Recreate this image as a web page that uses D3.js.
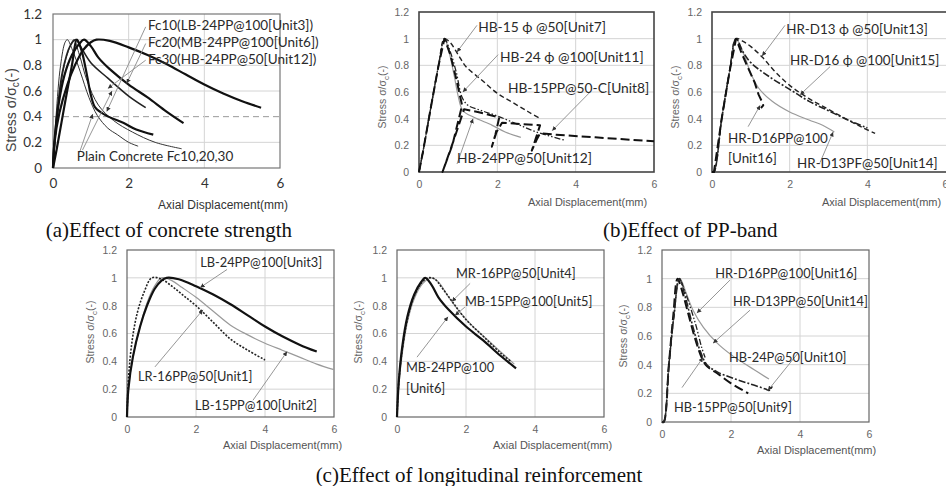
<!DOCTYPE html>
<html>
<head>
<meta charset="utf-8">
<script src="https://cdn.jsdelivr.net/npm/d3@7"></script>
<style>
body { margin: 0; background: #fff; }
</style>
</head>
<body>
<svg id="fig" width="946" height="486"></svg>
<script>
// ticks
var xTicks = [0, 2, 4, 6];
var yTicks = [0, 0.2, 0.4, 0.6, 0.8, 1, 1.2];
var xTickLabels = ['0', '2', '4', '6'];
var yTickLabels = ['0', '0.2', '0.4', '0.6', '0.8', '1', '1.2'];

// (a) effect of concrete strength
var unit3 = [[0,0],[0.04,0.2],[0.17,0.43],[0.38,0.65],[0.58,0.8],[0.8,0.92],[1.0,0.98],[1.15,1.0],[1.5,0.99],[2,0.94],[2.5,0.88],[3,0.81],[3.5,0.73],[4,0.65],[4.5,0.58],[5,0.52],[5.5,0.47]];
var unit6 = [[0,0],[0.05,0.25],[0.15,0.5],[0.3,0.72],[0.5,0.88],[0.7,0.97],[0.82,1.0],[1.0,0.95],[1.2,0.86],[1.5,0.77],[2,0.65],[2.5,0.55],[3,0.44],[3.45,0.35]];
var unit12 = [[0,0],[0.1,0.15],[0.3,0.48],[0.5,0.8],[0.63,1.0],[0.75,0.92],[0.9,0.72],[1.0,0.57],[1.12,0.47],[1.4,0.41],[1.87,0.35],[2.2,0.3],[2.65,0.26]];
var plainFc10 = [[0,0],[0.08,0.4],[0.2,0.8],[0.32,0.98],[0.38,1.0],[0.5,0.93],[0.72,0.75],[0.95,0.55],[1.17,0.41],[1.45,0.31],[1.7,0.26],[2.0,0.2],[2.25,0.17]];
var plainFc20 = [[0,0],[0.1,0.35],[0.3,0.8],[0.5,0.98],[0.55,1.0],[0.7,0.88],[0.9,0.68],[1.2,0.49],[1.6,0.37],[2.1,0.28],[2.7,0.2],[3.4,0.15]];
var plainFc30 = [[0,0],[0.1,0.4],[0.25,0.75],[0.45,0.95],[0.6,1.0],[0.72,0.95],[1.0,0.82],[1.45,0.7],[2,0.56],[2.45,0.47]];
var labelsA = ['Fc10(LB-24PP@100[Unit3])', 'Fc20(MB-24PP@100[Unit6])', 'Fc30(HB-24PP@50[Unit12])', 'Plain Concrete Fc10,20,30'];

// (b) effect of PP-band, left
var unit7 = [[0,0],[0.1,0.15],[0.3,0.48],[0.5,0.8],[0.65,1.0],[0.8,0.97],[1.0,0.88],[1.2,0.79],[1.6,0.69],[2,0.59],[2.4,0.52],[2.8,0.45],[3.1,0.4]];
var unit11 = [[0,0],[0.1,0.15],[0.3,0.48],[0.5,0.8],[0.65,1.0],[0.8,0.9],[0.95,0.75],[1.1,0.56],[1.25,0.5],[1.6,0.46],[2,0.42],[2.5,0.36],[3,0.3],[3.7,0.24]];
var unit8 = [[0,0],[0.1,0.15],[0.3,0.48],[0.5,0.8],[0.65,1.0],[0.8,0.88],[0.95,0.7],[1.1,0.5],[0.85,0.2],[0.6,0],[0.9,0.25],[1.15,0.47],[1.5,0.45],[2.05,0.41],[1.95,0.28],[1.86,0.19],[1.98,0.3],[2.12,0.37],[2.6,0.36],[3.09,0.35],[2.98,0.25],[2.88,0.16],[3.0,0.24],[3.09,0.29],[3.5,0.28],[4.5,0.26],[6,0.23]];
var unit12b = [[0,0],[0.1,0.15],[0.3,0.48],[0.5,0.8],[0.65,1.0],[0.75,0.92],[0.9,0.72],[1.0,0.57],[1.12,0.46],[1.4,0.41],[1.87,0.35],[2.2,0.3],[2.6,0.26]];
var labelsB1 = ['HB-15 \u03d5 @50[Unit7]', 'HB-24 \u03d5 @100[Unit11]', 'HB-15PP@50-C[Unit8]', 'HB-24PP@50[Unit12]'];

// (b) effect of PP-band, right
var unit13 = [[0,0],[0.05,0],[0.25,0.4],[0.45,0.75],[0.62,1.0],[0.8,0.98],[1.0,0.94],[1.3,0.86],[1.6,0.76],[2,0.65],[2.5,0.55],[3,0.47],[3.5,0.39],[3.9,0.33],[4.2,0.29]];
var unit15 = [[0,0],[0.05,0],[0.25,0.4],[0.45,0.75],[0.62,1.0],[0.8,0.9],[1.0,0.82],[1.5,0.71],[2,0.62],[2.5,0.53],[3,0.46],[3.5,0.39],[4.0,0.33]];
var unit16 = [[0,0],[0.05,0],[0.25,0.4],[0.45,0.75],[0.62,1.0],[0.75,0.9],[0.9,0.8],[1.1,0.67],[1.2,0.58],[1.3,0.52],[1.32,0.5],[1.26,0.48]];
var unit14 = [[0,0],[0.05,0],[0.25,0.4],[0.45,0.75],[0.62,1.0],[0.72,0.95],[0.85,0.86],[1.0,0.74],[1.2,0.63],[1.55,0.53],[2,0.45],[2.5,0.39],[2.85,0.35],[3.15,0.3]];
var labelsB2 = ['HR-D13 \u03d5 @50[Unit13]', 'HR-D16 \u03d5 @100[Unit15]', 'HR-D16PP@100', '[Unit16]', 'HR-D13PF@50[Unit14]'];

// (c) effect of longitudinal reinforcement, left
var unit1 = [[0,0],[0.05,0.3],[0.15,0.55],[0.3,0.75],[0.5,0.9],[0.72,1.0],[1.0,0.99],[1.3,0.94],[1.6,0.88],[2,0.8],[2.5,0.68],[3,0.56],[3.5,0.48],[4,0.41]];
var unit2 = [[0,0],[0.05,0.22],[0.17,0.43],[0.38,0.65],[0.58,0.82],[0.8,0.94],[1.0,1.0],[1.3,0.98],[1.6,0.93],[2,0.86],[2.5,0.76],[3,0.66],[3.5,0.59],[4,0.53],[4.5,0.48],[5,0.43],[5.5,0.38],[6,0.34]];
var labelsC1 = ['LB-24PP@100[Unit3]', 'LR-16PP@50[Unit1]', 'LB-15PP@100[Unit2]'];

// (c) middle
var unit4 = [[0,0],[0.05,0.25],[0.15,0.48],[0.3,0.7],[0.5,0.87],[0.7,0.96],[0.9,1.0],[1.1,0.99],[1.3,0.93],[1.6,0.83],[2,0.7],[2.5,0.58],[3,0.46],[3.3,0.4]];
var unit5 = [[0,0],[0.05,0.22],[0.15,0.45],[0.3,0.68],[0.5,0.85],[0.75,0.96],[1.0,1.0],[1.2,0.97],[1.5,0.86],[1.8,0.76],[2.2,0.65],[2.6,0.56],[3,0.47],[3.4,0.38]];
var labelsC2 = ['MR-16PP@50[Unit4]', 'MB-15PP@100[Unit5]', 'MB-24PP@100', '[Unit6]'];

// (c) right
var unit16c = [[0,0],[0.05,0],[0.2,0.4],[0.35,0.75],[0.5,1.0],[0.65,0.92],[0.85,0.78],[1.0,0.66],[1.15,0.52],[1.25,0.45]];
var unit14c = [[0,0],[0.05,0],[0.2,0.4],[0.35,0.75],[0.52,1.0],[0.7,0.9],[0.9,0.78],[1.2,0.66],[1.6,0.55],[2,0.47],[2.5,0.39],[3.1,0.3]];
var unit10 = [[0,0],[0.05,0],[0.2,0.4],[0.35,0.75],[0.5,1.0],[0.7,0.85],[0.9,0.66],[1.1,0.5],[1.3,0.4],[1.6,0.35],[2,0.31],[2.5,0.27],[3.0,0.23],[3.1,0.22],[3.2,0.25]];
var unit9 = [[0,0],[0.05,0],[0.2,0.4],[0.33,0.75],[0.45,1.0],[0.6,0.9],[0.8,0.72],[1.0,0.55],[1.15,0.45],[1.3,0.39],[1.6,0.34],[2.0,0.27],[2.5,0.2]];
var labelsC3 = ['HR-D16PP@100[Unit16]', 'HR-D13PP@50[Unit14]', 'HB-24P@50[Unit10]', 'HB-15PP@50[Unit9]'];

// line styles
var styles = {
    thick:      { color: '#111', width: 2.2, dash: null },
    medium:     { color: '#222', width: 1.6, dash: null },
    thin:       { color: '#333', width: 1.0, dash: null },
    gray:       { color: '#9a9a9a', width: 1.2, dash: null },
    dash:       { color: '#222', width: 1.4, dash: '5,3' },
    dashdotdot: { color: '#222', width: 1.3, dash: '6,2,1.5,2,1.5,2' },
    longdash:   { color: '#111', width: 2.0, dash: '9,4' },
    dot:        { color: '#222', width: 1.6, dash: '2,1.5' },
    dashdot:    { color: '#222', width: 1.6, dash: '7,2,2,2' }
};

// panels
var panels = [
    { left: 53, right: 280, top: 14, bottom: 168, kind: 'a',
      series: [[plainFc10, 'thin'], [plainFc20, 'thin'], [plainFc30, 'medium'], [unit12, 'thick'], [unit6, 'thick'], [unit3, 'thick']],
      labels: labelsA, labelPos: [[2.51,1.075],[2.51,0.943],[2.51,0.81],[0.63,0.055]],
      leaders: [[2.45,1.1,1.42,0.44],[2.45,0.97,1.95,0.66],[2.45,0.84,1.45,0.62],[0.7,0.12,1.05,0.42],[0.78,0.14,1.56,0.6]],
      labelSize: 13.5, xTitle: [158, 209], yTitle: [16, 110] },
    { left: 419, right: 654, top: 12, bottom: 172, kind: 'b',
      series: [[unit12b, 'gray'], [unit7, 'dash'], [unit11, 'dashdotdot'], [unit8, 'longdash', true]],
      labels: labelsB1, labelPos: [[1.51,1.05],[2.07,0.825],[2.27,0.59],[0.97,0.07]],
      leaders: [[1.48,1.1,0.97,0.9],[2.02,0.88,1.12,0.6],[4.37,0.6,3.4,0.31],[0.97,0.06,1.38,0.4]],
      labelSize: 13.8, xTitle: [528, 206], yTitle: [386, 97] },
    { left: 712, right: 945, top: 12, bottom: 172, kind: 'b', open: true,
      series: [[unit14, 'gray'], [unit13, 'dash'], [unit15, 'dashdot'], [unit16, 'longdash', true]],
      labels: labelsB2, labelPos: [[1.91,1.035],[2.01,0.8],[0.41,0.22],[0.41,0.07],[2.19,0.03]],
      leaders: [[1.88,1.1,1.29,0.87],[3.04,0.79,2.27,0.58],[0.93,0.34,1.24,0.5],[2.78,0.07,3.12,0.3]],
      labelSize: 13.4, xTitle: [822, 206], yTitle: [679, 97] },
    { left: 127, right: 334, top: 250, bottom: 417, kind: 'c',
      series: [[unit2, 'gray'], [unit1, 'dot'], [unit3, 'thick']],
      labels: labelsC1, labelPos: [[2.12,1.078],[0.32,0.26],[1.97,0.05]],
      leaders: [[2.9,1.06,2.12,0.93],[0.81,0.36,2.2,0.77],[3.65,0.12,4.64,0.47]],
      labelSize: 12.8, xTitle: [223, 449], yTitle: [94, 332] },
    { left: 397, right: 604, top: 250, bottom: 417, kind: 'c',
      series: [[unit5, 'gray'], [unit4, 'dot'], [unit6, 'thick']],
      labels: labelsC2, labelPos: [[1.71,0.999],[1.97,0.8],[0.26,0.32],[0.26,0.17]],
      leaders: [[2.12,0.96,1.59,0.83],[1.97,0.79,1.68,0.73],[0.58,0.43,1.48,0.72]],
      labelSize: 12.8, xTitle: [493, 449], yTitle: [362, 332] },
    { left: 662, right: 869, top: 250, bottom: 422, kind: 'c',
      series: [[unit14c, 'gray'], [unit9, 'longdash'], [unit10, 'dashdot'], [unit16c, 'dashdotdot']],
      labels: labelsC3, labelPos: [[1.54,1.005],[2.06,0.81],[1.94,0.42],[0.35,0.07]],
      leaders: [[1.97,0.99,1.01,0.76],[2.55,0.78,1.48,0.55],[3.94,0.48,3.07,0.22],[0.58,0.24,1.19,0.45]],
      labelSize: 12.8, xTitle: [757, 454], yTitle: [627, 336] }
];

// captions
var captions = ['(a)Effect of concrete strength', '(b)Effect of PP-band', '(c)Effect of longitudinal reinforcement'];

var svg = d3.select('#fig');

// arrow head
svg.append('defs').append('marker')
    .attr('id', 'arrow')
    .attr('viewBox', '0 0 6 6')
    .attr('refX', 6).attr('refY', 3)
    .attr('markerWidth', 5).attr('markerHeight', 5)
    .attr('orient', 'auto')
    .append('path').attr('d', 'M0,0 L6,3 L0,6 Z').attr('fill', '#333');

// draw panel
function drawPanel(p) {
    var isA = p.kind === 'a';
    var x = d3.scaleLinear().domain([0, 6]).range([p.left, p.right]);
    var y = d3.scaleLinear().domain([0, 1.2]).range([p.bottom, p.top]);
    var g = svg.append('g');

    // grid
    g.selectAll('.hg').data(yTicks.slice(1, -1)).enter().append('line')
        .attr('x1', p.left).attr('x2', p.open ? 946 : p.right)
        .attr('y1', function(d) { return y(d); }).attr('y2', function(d) { return y(d); })
        .attr('stroke', function(d) { return (isA && d === 0.4) ? '#999' : '#d4d4d4'; })
        .attr('stroke-dasharray', function(d) { return (isA && d === 0.4) ? '6,4' : null; })
        .attr('stroke-width', 1);
    g.selectAll('.vg').data(xTicks.slice(1, -1)).enter().append('line')
        .attr('y1', p.top).attr('y2', p.bottom)
        .attr('x1', function(d) { return x(d); }).attr('x2', function(d) { return x(d); })
        .attr('stroke', '#d4d4d4').attr('stroke-width', 1);

    // frame
    var frameColor = p.kind === 'b' ? '#444' : (isA ? '#777' : '#666');
    var frameWidth = p.kind === 'b' ? 1.6 : 1.2;
    g.append('rect')
        .attr('x', p.left).attr('y', p.top)
        .attr('width', (p.open ? 300 : p.right - p.left)).attr('height', p.bottom - p.top)
        .attr('fill', 'none').attr('stroke', frameColor).attr('stroke-width', frameWidth);

    // axes
    var tickFont = isA ? 'Lato, sans-serif' : '"Liberation Sans", Arial, sans-serif';
    var tickSize = isA ? 13.5 : 10.5;
    var tickColor = isA ? '#333' : '#666';
    var xAxis = g.append('g').attr('transform', 'translate(0,' + p.bottom + ')')
        .call(d3.axisBottom(x).tickValues(xTicks).tickSize(0).tickPadding(isA ? 10 : 9)
              .tickFormat(function(d, i) { return xTickLabels[i]; }));
    var yAxis = g.append('g').attr('transform', 'translate(' + p.left + ',0)')
        .call(d3.axisLeft(y).tickValues(yTicks).tickSize(0).tickPadding(isA ? 11 : 10)
              .tickFormat(function(d, i) { return yTickLabels[i]; }));
    [xAxis, yAxis].forEach(function(ax) {
        ax.select('.domain').remove();
        ax.selectAll('text').attr('font-family', tickFont).attr('font-size', tickSize).attr('fill', tickColor);
    });

    // axis titles
    g.append('text')
        .attr('x', p.xTitle[0]).attr('y', p.xTitle[1])
        .attr('font-family', '"Liberation Sans", Arial, sans-serif')
        .attr('font-size', isA ? 12 : 11).attr('fill', isA ? '#333' : '#555')
        .text('Axial Displacement(mm)');
    var yt = g.append('text')
        .attr('transform', 'translate(' + p.yTitle[0] + ',' + p.yTitle[1] + ') rotate(-90)')
        .attr('text-anchor', 'middle')
        .attr('font-family', '"Liberation Sans", Arial, sans-serif')
        .attr('font-size', isA ? 14 : 10.5).attr('fill', isA ? '#444' : '#666');
    yt.append('tspan').text('Stress  \u03c3/\u03c3');
    yt.append('tspan').attr('font-size', isA ? 10 : 8).attr('dy', 3).text('c');
    yt.append('tspan').attr('dy', -3).text('(-)');

    // curves
    var line = d3.line()
        .x(function(d) { return x(d[0]); })
        .y(function(d) { return y(d[1]); });
    p.series.forEach(function(s) {
        var st = styles[s[1]];
        line.curve(s[2] ? d3.curveLinear : d3.curveCatmullRom.alpha(0.5));
        g.append('path')
            .datum(s[0])
            .attr('d', line)
            .attr('fill', 'none')
            .attr('stroke', st.color)
            .attr('stroke-width', st.width)
            .attr('stroke-dasharray', st.dash)
            .attr('stroke-linejoin', 'round');
    });

    // leader lines
    p.leaders.forEach(function(l) {
        g.append('line')
            .attr('x1', x(l[0])).attr('y1', y(l[1]))
            .attr('x2', x(l[2])).attr('y2', y(l[3]))
            .attr('stroke', '#8a8a8a').attr('stroke-width', 0.9)
            .attr('marker-end', 'url(#arrow)');
    });

    // labels
    p.labels.forEach(function(t, i) {
        g.append('text')
            .attr('x', x(p.labelPos[i][0])).attr('y', y(p.labelPos[i][1]))
            .attr('font-family', 'Lato, "Open Sans", sans-serif')
            .attr('font-size', p.labelSize)
            .attr('fill', '#2a2a2a')
            .text(t);
    });
}

panels.forEach(drawPanel);

// captions
var capFont = '"Liberation Serif", "Times New Roman", serif';
svg.append('text').attr('x', 292).attr('y', 237).attr('text-anchor', 'end')
    .attr('font-family', capFont).attr('font-size', 21).attr('fill', '#111').text(captions[0]);
svg.append('text').attr('x', 603).attr('y', 237)
    .attr('font-family', capFont).attr('font-size', 21).attr('fill', '#111').text(captions[1]);
svg.append('text').attr('x', 479).attr('y', 482).attr('text-anchor', 'middle')
    .attr('font-family', capFont).attr('font-size', 21).attr('fill', '#111').text(captions[2]);
</script>
</body>
</html>
